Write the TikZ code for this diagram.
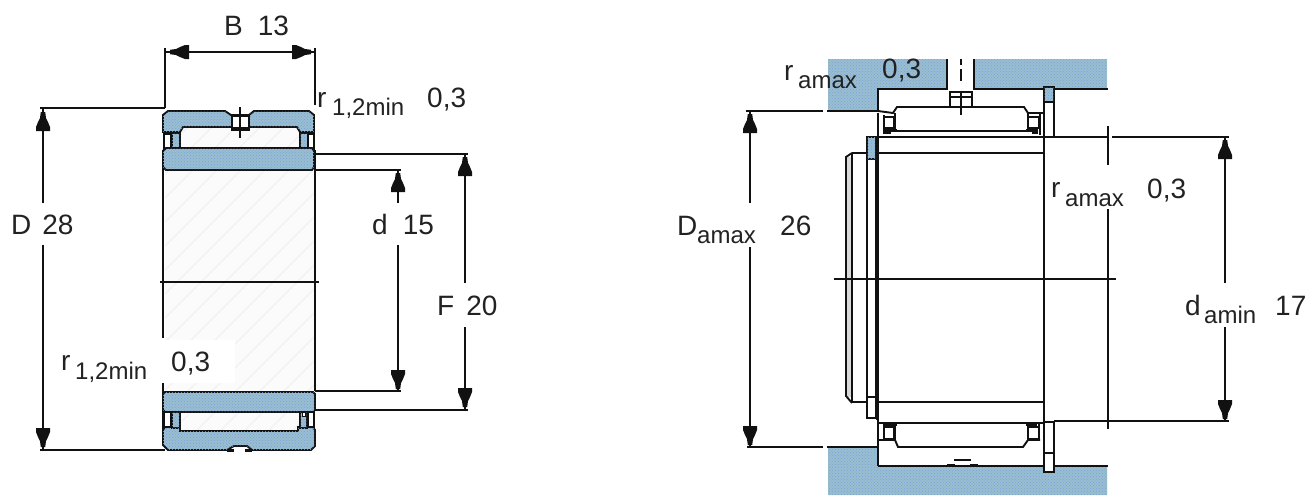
\documentclass[tikz,border=0pt]{standalone}
\usepackage{fontspec}
\usetikzlibrary{patterns}
\setmainfont{Liberation Sans}
\definecolor{steel}{HTML}{98BED0}
\definecolor{steeldot}{HTML}{7F9FDA}
\definecolor{hatchbase}{HTML}{FBFBFB}
\definecolor{hatchline}{HTML}{F2F2F2}
\definecolor{ink}{HTML}{111111}
\definecolor{txt}{HTML}{222222}
\tikzset{
  ln/.style={draw=ink,line width=1.9pt,line join=miter},
  thk/.style={draw=ink,line width=3pt},
  blue/.style={ln,fill=steel,postaction={pattern=crosshatch dots,pattern color=steeldot}},
  bluefill/.style={fill=steel,postaction={pattern=crosshatch dots,pattern color=steeldot}},
  wht/.style={ln,fill=white},
  big/.style={anchor=base west,inner sep=0pt,text=txt,font=\fontsize{28}{30}\selectfont},
  sub/.style={anchor=base west,inner sep=0pt,text=txt,font=\fontsize{24}{26}\selectfont},
}
\newcommand{\headmark}[3]{\fill[ink,shift={(#1,#2)},rotate=#3] (-2.2,0)--(-3,6)--(-5,10)--(-7,15)--(-7,19)--(7,19)--(7,15)--(5,10)--(3,6)--(2.2,0)--cycle;}
\begin{document}
\begin{tikzpicture}[x=1pt,y=-1pt]
\useasboundingbox (0,0) rectangle (1308,496);
\fill[white] (0,0) rectangle (1308,496);

% ---------- left figure: bore shading ----------
\begin{scope}
\clip (165,127) rectangle (314,431);
\fill[hatchbase] (165,127) rectangle (314,431);
\foreach \k in {0,24,...,480}{\draw[hatchline,line width=1.2pt] (\k-140,431) -- +(310,-310);}
\end{scope}
\fill[white] (60,340) rectangle (235,383);

% left figure: long lines
\draw[ln] (163,150) -- (163,338);
\draw[ln] (163,383) -- (163,440);
\draw[ln] (315,150) -- (315,391);
\draw[ln] (160,282) -- (319,282);

% left figure: top section
\draw[blue] (168,111)--(225,111)--(231,115)--(249,115)--(254,111)--(309,111)--(314,115)--(314,132)--(300,132)--(297,127)--(183,127)--(180,132)--(163,132)--(163,115)--cycle;
\draw[wht] (232,116) rectangle (249,128);
\draw[thk] (231,129) -- (250,129);
\draw[ln] (240,107) -- (240,138);
\draw[wht] (164,134) rectangle (171,150);
\draw[blue] (172,133) rectangle (180,148);
\draw[blue] (300,133) rectangle (308,148);
\draw[wht] (308,134) rectangle (314,150);
\draw[blue] (166,148)--(312,148)--(314,151)--(314,167)--(312,170)--(166,170)--(163,167)--(163,151)--cycle;

% left figure: bottom section
\draw[blue] (165,392)--(313,392)--(315,394)--(315,410)--(313,412)--(165,412)--(163,410)--(163,394)--cycle;
\draw[blue] (165,427)--(180,427)--(180,431)--(298,431)--(298,427)--(313,427)--(315,430)--(315,446)--(311,450)--(252,450)--(247,446)--(234,446)--(227,450)--(168,450)--(163,445)--(163,430)--cycle;
\draw[wht] (164,412) rectangle (171,427);
\draw[blue] (172,412) rectangle (180,428);
\draw[blue] (300,412) rectangle (307,428);
\draw[wht] (308,412) rectangle (314,427);
\draw[wht,line width=1pt] (302,412) rectangle (305,416);
\fill[white] (234,446.5) rectangle (245,449);
\draw[thk] (227,450) -- (234,450) (245,450) -- (252,450);

% left figure: dimensions
\draw[ln] (165,48) -- (165,108);
\draw[ln] (315,48) -- (315,105);
\draw[ln] (165,52) -- (315,52);
\headmark{170}{52}{90}
\headmark{311}{52}{-90}
\draw[ln] (40,108) -- (165,108);
\draw[ln] (40,450) -- (165,450);
\draw[ln] (43,108) -- (43,203) (43,245) -- (43,450);
\headmark{43}{112}{0}
\headmark{43}{447}{180}
\draw[ln] (315,170) -- (401,170);
\draw[ln] (315,391) -- (401,391);
\draw[ln] (398,170) -- (398,203) (398,245) -- (398,391);
\headmark{398}{173}{0}
\headmark{398}{389}{180}
\draw[ln] (315,154) -- (468,154);
\draw[ln] (315,410) -- (468,410);
\draw[ln] (465,154) -- (465,283) (465,327) -- (465,410);
\headmark{465}{157}{0}
\headmark{465}{407}{180}

% ---------- right figure: housing ----------
\fill[bluefill] (828,59)--(947,59)--(947,89)--(878,89)--(878,111)--(828,111)--cycle;
\fill[bluefill] (974,59)--(1107,59)--(1107,89)--(974,89)--cycle;
\fill[bluefill] (828,447)--(878,447)--(878,466)--(1107,466)--(1107,495)--(828,495)--cycle;
\draw[ln] (947,59) -- (947,90);
\draw[ln] (974,59) -- (974,90);
\draw[ln] (961,59) -- (961,65) (961,69) -- (961,81) (961,93) -- (961,115);
\draw[ln] (878,111) -- (878,89) -- (947,89);
\draw[ln] (974,89) -- (1108,89);
\draw[ln] (827,111) -- (878,111);
\draw[ln] (746,111) -- (823,111);
\draw[ln] (827,447) -- (878,447);
\draw[ln] (747,447) -- (823,447);
\draw[ln] (878,466) -- (1108,466);
\draw[ln] (878,421) -- (878,466);

% right figure: rollers and cage, top
\draw[ln] (878,111)--(893,113)--(897,107)--(1024,107)--(1028,113)--(1044,113);
\draw[wht] (950,92) rectangle (972,107);
\draw[ln] (950,97) -- (972,97);
\draw[ln] (961,93) -- (961,115);
\draw[ln] (878,113) -- (878,137);
\draw[ln] (884,115) -- (884,134);
\draw[wht] (884,117) rectangle (894,128);
\draw[ln,line width=1.2pt] (886,128) rectangle (890,133);
\draw[ln] (895,113) -- (895,131);
\draw[wht] (1028,117) rectangle (1039,128);
\draw[ln,line width=1.2pt] (1033,128) rectangle (1037,133);
\draw[ln] (1028,113) -- (1028,131);
\draw[ln] (1040,113) -- (1040,135);
\draw[ln] (890,131) -- (1037,131);
\draw[thk] (885,130) -- (897,130) (1026,130) -- (1037,130);
\draw[ln] (878,137) -- (1044,137);

% right figure: rollers and cage, bottom
\draw[ln] (878,423) -- (1044,423);
\draw[thk] (885,424) -- (897,424) (1026,424) -- (1037,424);
\draw[ln] (884,423) -- (884,440);
\draw[wht] (884,427) rectangle (894,439);
\draw[wht] (1028,427) rectangle (1039,439);
\draw[ln] (1039,423) -- (1039,440);
\draw[ln] (878,440)--(895,440)--(898,447)--(1023,447)--(1028,440)--(1040,440);
\draw[ln] (895,423) -- (895,440);
\draw[ln] (1028,423) -- (1028,440);
\fill[white] (947,460) rectangle (978,465);
\draw[ln,line width=1.2pt] (954,460) -- (971,460);
\draw[thk] (947,465) -- (955,465) (970,465) -- (978,465);

% right figure: inner ring and seals
\draw[ln] (878,137) -- (878,421);
\draw[ln] (1044,137) -- (1044,423);
\draw[ln] (852,153) -- (1044,153);
\draw[ln] (852,402) -- (1044,402);
\fill[gray!30] (847,157) rectangle (852,397);
\draw[ln] (852,153) -- (852,403);
\draw[ln] (852,153) -- (846,157) -- (846,396) -- (852,403);
\draw[wht] (867,137) rectangle (876,418);
\draw[blue] (867,137) rectangle (876,159);
\draw[ln] (867,397) -- (876,397);
\draw[ln] (878,137) -- (878,421);
\draw[thk] (877,137) -- (877,155) (877,402) -- (877,420);
\draw[blue] (1044,87) rectangle (1054,102);
\draw[wht] (1044,102) rectangle (1054,137);
\draw[wht] (1044,422) rectangle (1054,472);
\draw[ln] (1044,453) -- (1054,453);
\draw[ln] (834,279) -- (1116,279);

% right figure: dimensions
\draw[ln] (1054,137) -- (1108,137);
\draw[ln] (1112,137) -- (1229,137);
\draw[ln] (1054,421) -- (1229,421);
\draw[ln] (1108,126) -- (1108,165) (1108,209) -- (1108,429);
\draw[ln] (1225,137) -- (1225,283) (1225,327) -- (1225,421);
\headmark{1225}{140}{0}
\headmark{1225}{419}{180}
\draw[ln] (750,111) -- (750,203) (750,247) -- (750,447);
\headmark{750}{114}{0}
\headmark{750}{445}{180}

% ---------- labels ----------
\node[big] (lblB) at (224,35) {B\hspace{15pt}13};
\node[big] (lblD) at (11,234) {D\hspace{11pt}28};
\node[big] (lbld) at (372,234) {d\hspace{15pt}15};
\node[big] (lblF) at (437,315) {F\hspace{12pt}20};
\node[big] (lblra) at (317,107) {r};
\node[sub] (lblrb) at (332,115) {1,2min};
\node[big] (lblrc) at (427,107) {0,3};
\node[big] (lblrd) at (61,370) {r};
\node[sub] (lblre) at (75,379) {1,2min};
\node[big] (lblrf) at (171,371) {0,3};
\node[big] (lblrg) at (784,80) {r};
\node[sub] (lblrh) at (798,88) {amax};
\node[big] (lblri) at (882,78) {0,3};
\node[big] (lblDa) at (677,235) {D};
\node[sub] (lblDb) at (697,243) {amax};
\node[big] (lblDc) at (780,235) {26};
\node[big] (lblrj) at (1051,197) {r};
\node[sub] (lblrk) at (1065,206) {amax};
\node[big] (lblrl) at (1147,198) {0,3};
\node[big] (lblda) at (1185,315) {d};
\node[sub] (lbldb) at (1204,323) {amin};
\node[big] (lbldc) at (1275,315) {17};
\end{tikzpicture}
\end{document}
